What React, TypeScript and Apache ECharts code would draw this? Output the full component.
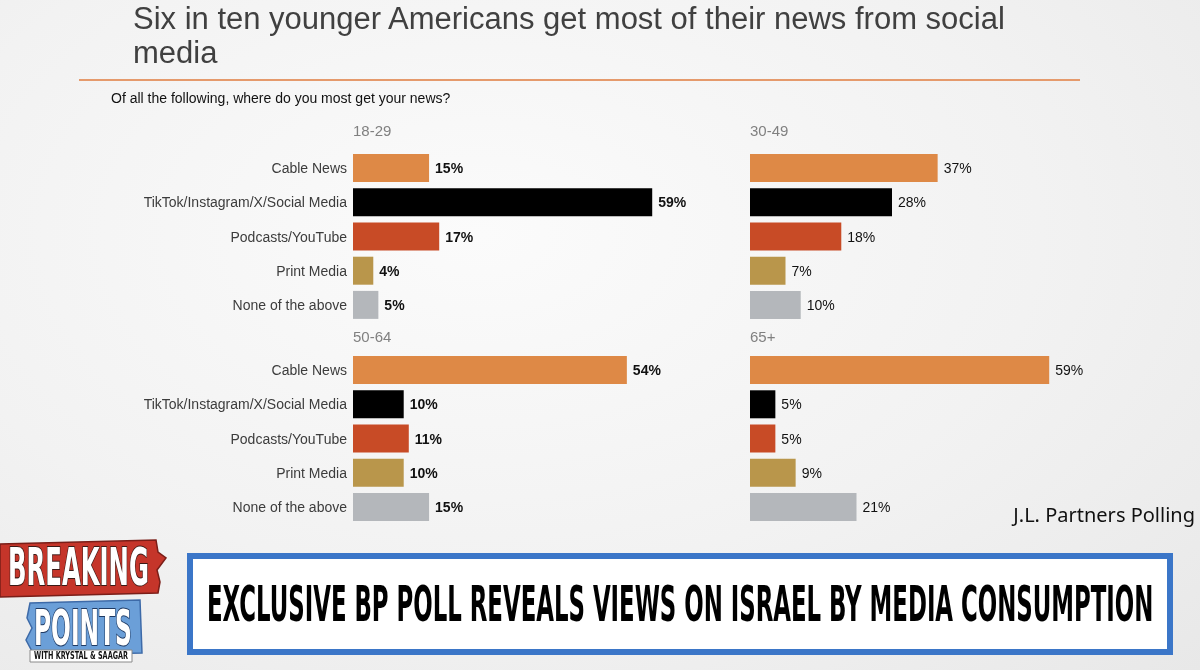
import React, { useEffect, useRef } from "react";
import * as echarts from "echarts";

const categories = [
  "Cable News",
  "TikTok/Instagram/X/Social Media",
  "Podcasts/YouTube",
  "Print Media",
  "None of the above",
];
const ageGroups = ["18-29", "30-49", "50-64", "65+"];
const values1829 = [15, 59, 17, 4, 5];
const values3049 = [37, 28, 18, 7, 10];
const values5064 = [54, 10, 11, 10, 15];
const values65plus = [59, 5, 5, 9, 21];
const panelValues = [values1829, values3049, values5064, values65plus];

const titleLine1 = "Six in ten younger Americans get most of their news from social";
const titleLine2 = "media";
const subtitle = "Of all the following, where do you most get your news?";
const sourceText = "J.L. Partners Polling";
const bannerText = "EXCLUSIVE BP POLL REVEALS VIEWS ON ISRAEL BY MEDIA CONSUMPTION";

const barColors = ["#de8946", "#000000", "#c84b26", "#b9964b", "#b4b7bb"];
const FONT = "'Liberation Sans', Arial, sans-serif";
const COND = "'DejaVu Sans Condensed', 'DejaVu Sans', sans-serif";

function measure(text: string, font: string): number {
  const c = document.createElement("canvas");
  const ctx = c.getContext("2d");
  if (!ctx) return text.length * 20;
  ctx.font = font;
  return ctx.measureText(text).width;
}

function fitText(
  text: string,
  x: number,
  y: number,
  targetWidth: number,
  fontSize: number,
  fill: string,
  extra: any = {}
) {
  const w = measure(text, `bold ${fontSize}px ${COND}`);
  const s = targetWidth / w;
  return {
    type: "text",
    x,
    y,
    scaleX: s,
    z: 10,
    style: {
      text,
      fontSize,
      fontFamily: COND,
      fontWeight: "bold",
      fill,
      textAlign: "left",
      textVerticalAlign: "middle",
      ...extra,
    },
  };
}

export default function App() {
  const ref = useRef<HTMLDivElement>(null);

  useEffect(() => {
    if (!ref.current) return;
    const chart = echarts.init(ref.current, undefined, { renderer: "svg" });

    const gridPos = [
      { left: 353, top: 151 },
      { left: 750, top: 151 },
      { left: 353, top: 353 },
      { left: 750, top: 353 },
    ];

    const option: any = {
      animation: false,
      grid: gridPos.map((g) => ({ left: g.left, top: g.top, width: 355, height: 171 })),
      xAxis: gridPos.map((_, i) => ({
        type: "value",
        gridIndex: i,
        min: 0,
        max: 70,
        show: false,
      })),
      yAxis: gridPos.map((_, i) => ({
        type: "category",
        gridIndex: i,
        data: categories,
        inverse: true,
        axisLine: { show: false },
        axisTick: { show: false },
        splitLine: { show: false },
        axisLabel: {
          show: i % 2 === 0,
          margin: 6,
          fontSize: 14,
          color: "#3c3c3c",
          fontFamily: FONT,
        },
      })),
      series: panelValues.map((vals, i) => ({
        type: "bar",
        name: ageGroups[i],
        xAxisIndex: i,
        yAxisIndex: i,
        barWidth: 28,
        data: vals.map((v, j) => ({ value: v, itemStyle: { color: barColors[j] } })),
        label: {
          show: true,
          position: "right",
          distance: 6,
          formatter: "{c}%",
          fontSize: 14,
          fontFamily: FONT,
          fontWeight: i % 2 === 0 ? "bold" : "normal",
          color: "#111111",
        },
      })),
      graphic: [
        {
          type: "text",
          left: 133,
          top: 3,
          style: { text: titleLine1, fontSize: 31, fontFamily: FONT, fill: "#404040" },
        },
        {
          type: "text",
          left: 133,
          top: 37,
          style: { text: titleLine2, fontSize: 31, fontFamily: FONT, fill: "#404040" },
        },
        {
          type: "line",
          shape: { x1: 79, y1: 80, x2: 1080, y2: 80 },
          style: { stroke: "#e59a6c", lineWidth: 2 },
        },
        {
          type: "text",
          left: 111,
          top: 91,
          style: { text: subtitle, fontSize: 14, fontFamily: FONT, fill: "#111111" },
        },
        ...ageGroups.map((a, i) => ({
          type: "text",
          left: gridPos[i].left,
          top: i < 2 ? 123 : 329,
          style: { text: a, fontSize: 15, fontFamily: FONT, fill: "#808080" },
        })),
        {
          type: "text",
          right: 5,
          top: 504,
          style: {
            text: sourceText,
            fontSize: 20,
            fontFamily: "'Noto Sans', sans-serif",
            fill: "#111111",
          },
        },
        // banner
        {
          type: "rect",
          shape: { x: 190, y: 556, width: 980, height: 96 },
          style: { fill: "#ffffff", stroke: "#3b76c8", lineWidth: 6 },
        },
        fitText(bannerText, 207, 603, 946, 50, "#000000"),
        // logo red block
        {
          type: "polygon",
          shape: {
            points: [
              [0, 544],
              [156, 540],
              [158, 552],
              [166, 558],
              [157, 570],
              [160, 582],
              [158, 593],
              [0, 597],
            ],
          },
          style: { fill: "#c5352a", stroke: "#7a1e18", lineWidth: 1.5 },
        },
        fitText("BREAKING", 8, 567, 141, 52, "#ffffff", { stroke: "#3a1a16", lineWidth: 2 }),
        // logo blue block
        {
          type: "polygon",
          shape: {
            points: [
              [30, 603],
              [140, 600],
              [142, 653],
              [34, 655],
              [26, 640],
              [32, 628],
              [27, 618],
            ],
          },
          style: { fill: "#6b9fd8", stroke: "#3d6aa8", lineWidth: 1.5 },
        },
        fitText("POINTS", 34, 627, 98, 50, "#ffffff", { stroke: "#1f3a63", lineWidth: 2 }),
        {
          type: "rect",
          shape: { x: 30, y: 650, width: 102, height: 12 },
          style: { fill: "#ffffff", stroke: "#8a8a8a", lineWidth: 1 },
        },
        fitText("WITH KRYSTAL & SAAGAR", 34, 656, 94, 10, "#111111"),
      ],
    };

    chart.setOption(option);
    return () => chart.dispose();
  }, []);

  return (
    <div
      ref={ref}
      style={{
        position: "fixed",
        left: 0,
        top: 0,
        width: 1200,
        height: 670,
        background:
          "radial-gradient(ellipse at 40% 35%, #fbfbfb 0%, #f2f2f2 55%, #e8e8e8 100%)",
      }}
    />
  );
}
